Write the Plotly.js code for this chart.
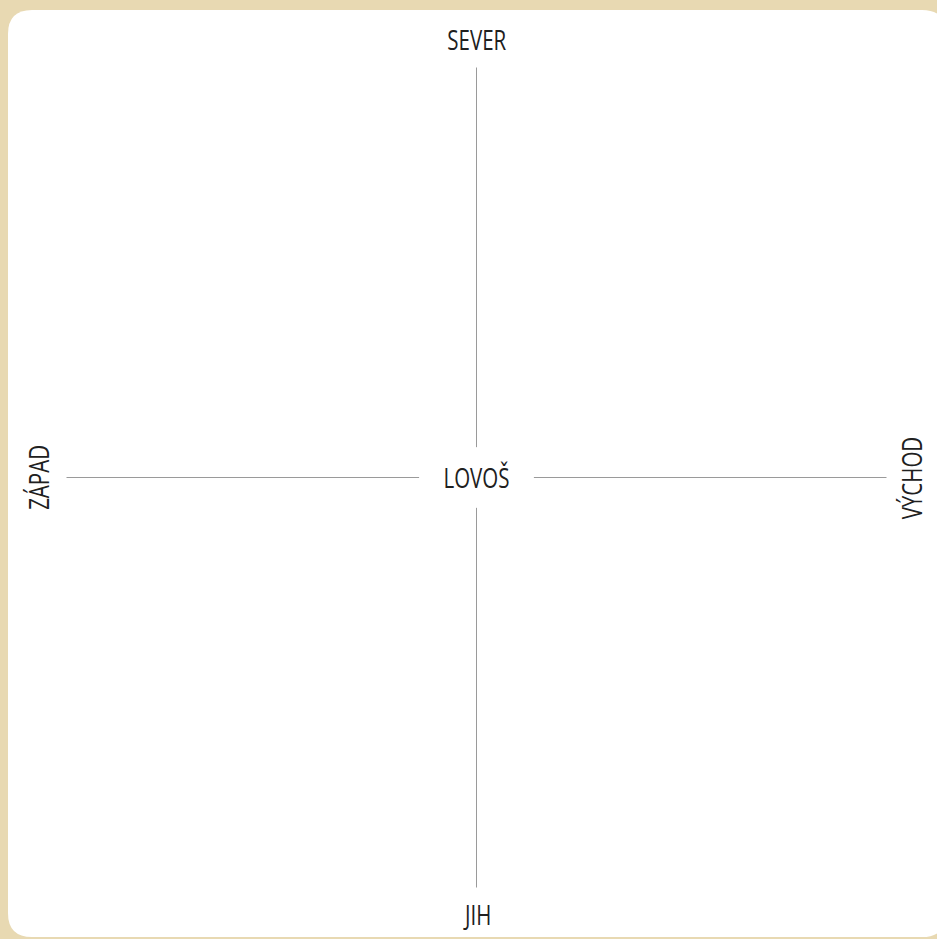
<!DOCTYPE html>
<html>
<head>
<meta charset="utf-8">
<script src="https://cdn.plot.ly/plotly-3.0.1.min.js"></script>
<style>
  html, body { margin: 0; padding: 0; background: #e8d9b2; }
  #chart { width: 937px; height: 939px; }
  /* condensed look of the labels */
  #chart .annotation-text {
    transform-box: fill-box;
    transform-origin: center;
    transform: scaleX(0.76);
  }
</style>
</head>
<body>
<div id="chart"></div>
<script>
// Compass diagram data
const directions = ["SEVER", "JIH", "ZÁPAD", "VÝCHOD"];
const centerLabel = "LOVOŠ";
// unit direction of each arm (N, S, W, E)
const armDirX = [0, 0, -1, 1];
const armDirY = [1, -1, 0, 0];
// arm start (gap around centre label) and end, in arm units
const armInner = [0.074, 0.074, 0.14, 0.14];
const armOuter = [1, 1, 1, 1];
// label distance from centre
const labelDist = [1.068, 1.066, 1.068, 1.062];
const labelAngle = [0, 0, -90, -90];

const W = 937, H = 939;
const lineColor = "#9a9a9a";
const textColor = "#202020";
const fontFamily = "Open Sans, Noto Sans, sans-serif";
const fontSize = 27;

const traces = directions.map((d, i) => ({
  type: "scatter",
  mode: "lines",
  x: [armDirX[i] * armInner[i], armDirX[i] * armOuter[i]],
  y: [armDirY[i] * armInner[i], armDirY[i] * armOuter[i]],
  line: { color: lineColor, width: 1 },
  hoverinfo: "skip",
  showlegend: false
}));

const annotations = directions.map((d, i) => ({
  x: armDirX[i] * labelDist[i],
  y: armDirY[i] * labelDist[i],
  xref: "x", yref: "y",
  text: d,
  showarrow: false,
  textangle: labelAngle[i],
  xanchor: "center", yanchor: "middle",
  font: { family: fontFamily, size: fontSize, color: textColor }
}));
annotations.push({
  x: 0, y: 0, xref: "x", yref: "y",
  text: centerLabel, showarrow: false,
  xanchor: "center", yanchor: "middle",
  font: { family: fontFamily, size: fontSize, color: textColor }
});

// rounded white card (paper coordinates)
const x0 = 8 / W, x1 = 946 / W, y0 = 1 - 937 / H, y1 = 1 - 10 / H;
const rx = 24 / W, ry = 24 / H;
const cardPath =
  `M ${x0 + rx},${y1} L ${x1 - rx},${y1} Q ${x1},${y1} ${x1},${y1 - ry} ` +
  `L ${x1},${y0 + ry} Q ${x1},${y0} ${x1 - rx},${y0} ` +
  `L ${x0 + rx},${y0} Q ${x0},${y0} ${x0},${y0 + ry} ` +
  `L ${x0},${y1 - ry} Q ${x0},${y1} ${x0 + rx},${y1} Z`;

const unit = 410, cx = 476.5, cy = 477.5;
const layout = {
  width: W, height: H,
  margin: { l: 0, r: 0, t: 0, b: 0, pad: 0 },
  paper_bgcolor: "#e8d9b2",
  plot_bgcolor: "rgba(0,0,0,0)",
  xaxis: { range: [-cx / unit, (W - cx) / unit], visible: false, fixedrange: true },
  yaxis: { range: [-(H - cy) / unit, cy / unit], visible: false, fixedrange: true },
  shapes: [{
    type: "path", xref: "paper", yref: "paper", layer: "below",
    path: cardPath, fillcolor: "#ffffff", line: { width: 0 }
  }],
  annotations: annotations,
  showlegend: false
};

Plotly.newPlot("chart", traces, layout, { displayModeBar: false, staticPlot: true });
</script>
</body>
</html>
